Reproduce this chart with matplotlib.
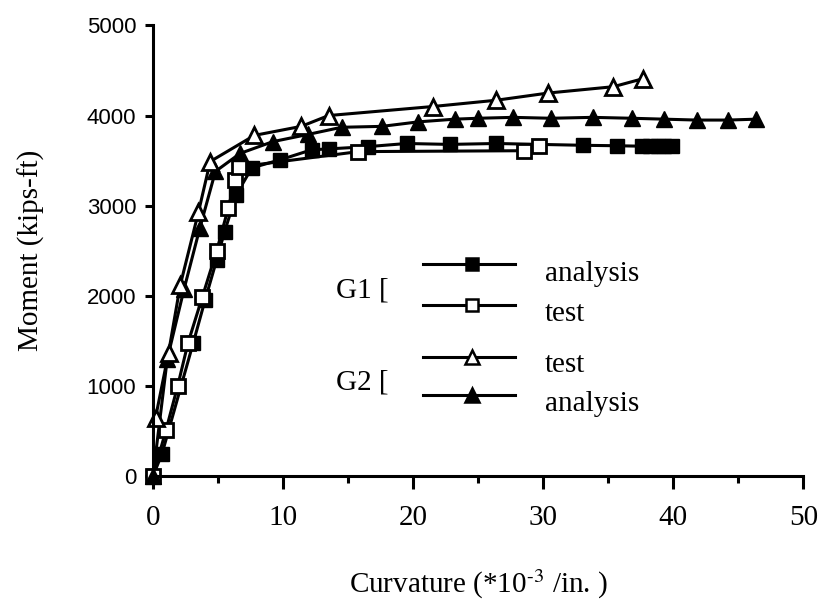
import matplotlib.pyplot as plt
from matplotlib.lines import Line2D

plt.rcParams["mathtext.fontset"] = "stix"

# G1 analysis (filled squares)
g1_ana_x = [0, 0.7, 3.1, 4.0, 4.9, 5.5, 6.4, 7.6, 9.8, 12.2, 13.5, 16.5, 19.5, 22.8,
            26.4, 33.1, 35.7, 37.6, 38.2, 38.8, 39.3, 39.9]
g1_ana_y = [0, 250, 1480, 1950, 2400, 2710, 3120, 3420, 3510, 3620, 3630, 3655, 3690,
            3680, 3690, 3670, 3665, 3660, 3660, 3660, 3660, 3660]

# G1 test (open squares)
g1_test_x = [0, 1.0, 1.9, 2.7, 3.8, 4.9, 5.8, 6.3, 6.6, 15.8, 28.5, 29.7]
g1_test_y = [0, 510, 1000, 1480, 1990, 2500, 2980, 3280, 3430, 3600, 3610, 3660]

# G2 test (open triangles)
g2_test_x = [0.2, 1.2, 2.1, 3.5, 4.4, 7.8, 11.4, 13.5, 21.5, 26.4, 30.4, 35.4, 37.7]
g2_test_y = [650, 1370, 2120, 2930, 3490, 3780, 3880, 4000, 4100, 4170, 4250, 4320, 4410]

# G2 analysis (filled triangles)
g2_ana_x = [0, 1.1, 2.4, 3.6, 4.8, 6.7, 9.2, 11.9, 14.5, 17.6, 20.4, 23.2, 25.0, 27.7,
            30.6, 33.8, 36.8, 39.3, 41.8, 44.2, 46.4]
g2_ana_y = [0, 1300, 2080, 2750, 3380, 3580, 3710, 3790, 3870, 3880, 3930, 3960, 3970,
            3980, 3970, 3980, 3970, 3960, 3950, 3950, 3960]

serif = "Liberation Serif"
fs = 21

fig = plt.figure(figsize=(8.18, 6.05), dpi=100)
ax = fig.add_axes([0.187, 0.213, 0.795, 0.745])

lw = 2.2
ax.plot(g1_ana_x, g1_ana_y, color="black", lw=lw, marker="s", ms=10,
        mfc="black", mec="black", clip_on=False)
ax.plot(g1_test_x, g1_test_y, color="black", lw=lw, marker="s", ms=10,
        mfc="white", mec="black", mew=2, clip_on=False)
ax.plot(g2_ana_x, g2_ana_y, color="black", lw=lw, marker="^", ms=11,
        mfc="black", mec="black", clip_on=False)
ax.plot(g2_test_x, g2_test_y, color="black", lw=lw, marker="^", ms=11,
        mfc="white", mec="black", mew=2, clip_on=False)

ax.set_xlim(0, 50)
ax.set_ylim(0, 5000)
ax.spines["top"].set_visible(False)
ax.spines["right"].set_visible(False)
ax.spines["left"].set_linewidth(2.2)
ax.spines["bottom"].set_linewidth(2.2)

ax.set_xticks(range(0, 51, 10))
ax.set_xticks(range(5, 50, 10), minor=True)
ax.set_yticks(range(0, 5001, 1000))
ax.tick_params(axis="x", which="major", length=9, width=2.2, direction="out", pad=12)
ax.tick_params(axis="x", which="minor", length=5, width=2.2, direction="out")
ax.tick_params(axis="y", length=6, width=2.2, direction="out", pad=6)

for lab in ax.get_xticklabels():
    lab.set_fontfamily(serif)
    lab.set_fontsize(fs)
for lab in ax.get_yticklabels():
    lab.set_fontfamily("Liberation Sans")
    lab.set_fontsize(16)

ax.set_xlabel(r"Curvature (*10$^{\text{-3}}$ /in. )", fontfamily=serif,
              fontsize=fs, labelpad=26)
ax.set_ylabel("Moment (kips-ft)", fontfamily=serif, fontsize=fs, labelpad=30)

# hand-drawn legend
H = 605.0
W = 818.0


def fx(px):
    return px / W


def fy(py):
    return 1 - py / H


legend_rows = [
    (264, "s", "black", "analysis", 274),
    (305, "s", "white", "test", 314),
    (357, "^", "white", "test", 365),
    (395, "^", "black", "analysis", 404),
]
for ly, mk, fc, txt, ty in legend_rows:
    fig.add_artist(Line2D([fx(423), fx(515)], [fy(ly), fy(ly)], color="black",
                          lw=lw, transform=fig.transFigure))
    fig.add_artist(Line2D([fx(472)], [fy(ly)], marker=mk, ms=9 if mk == "s" else 10,
                          mfc=fc, mec="black", mew=1.8, color="black",
                          transform=fig.transFigure))
    fig.text(fx(545), fy(ty), txt, fontfamily=serif, fontsize=fs,
             va="center", ha="left")

fig.text(fx(336), fy(290), "G1 [", fontfamily=serif, fontsize=fs,
         va="center", ha="left")
fig.text(fx(336), fy(383), "G2 [", fontfamily=serif, fontsize=fs,
         va="center", ha="left")

fig.savefig("out.png", dpi=100)
